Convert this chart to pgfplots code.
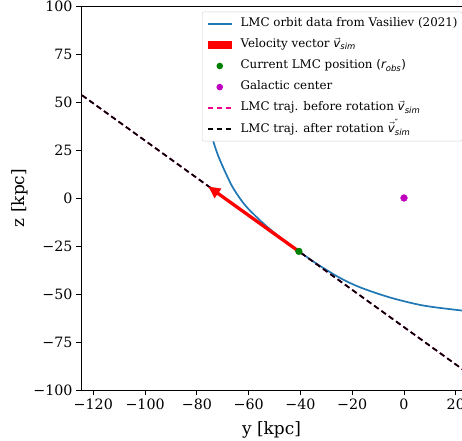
\documentclass[border=0pt]{standalone}
\usepackage{fontspec}
\setmainfont{DejaVu Serif}
\newfontfamily\dvs{DejaVu Sans}
\usepackage{pgfplots}
\pgfplotsset{compat=1.18}
\usetikzlibrary{arrows.meta}
\definecolor{tabblue}{RGB}{31,119,180}
\definecolor{mgreen}{RGB}{0,128,0}
\definecolor{mmag}{RGB}{191,0,191}
\newcommand{\subsz}{\fontsize{8.5}{9}\selectfont}
\newcommand{\vsim}{\ensuremath{\vec{\hbox{\dvs\itshape v}}_{\hbox{\dvs\itshape\subsz sim}}}}
\newcommand{\vsimpp}{\ensuremath{\vec{\hbox{\dvs\itshape v}}^{\hbox{\dvs\subsz ″}}_{\hbox{\dvs\itshape\subsz sim}}}}
\newcommand{\robs}{\ensuremath{\hbox{\dvs (}\hbox{\dvs\itshape r}_{\hbox{\dvs\itshape\subsz obs}}\hbox{\dvs )}}}
\begin{document}
\begin{tikzpicture}
\begin{axis}[name=ax, scale only axis, width=381bp, height=384bp,
  xmin=-124.75, xmax=22.4, ymin=-100, ymax=100,
  axis y line*=left,
  xtick={-120,-100,...,20}, xticklabels={−120,−100,−80,−60,−40,−20,0,20},
  ytick={-100,-75,...,100}, yticklabels={−100,−75,−50,−25,0,25,50,75,100},
  tick align=outside, xtick pos=bottom, ytick pos=left,
  major tick length=5bp,
  tick style={black, line width=0.9bp},
  axis line style={line width=0.9bp, black},
  ticklabel style={font=\fontsize{14.3}{16}\selectfont},
  xlabel={y [kpc]}, ylabel={z [kpc]},
  label style={font=\fontsize{17}{20}\selectfont},
  xlabel style={at={(rel axis cs:0.5,0)}, anchor=center, yshift=-40bp},
  ylabel style={at={(rel axis cs:0,0.5)}, anchor=center, yshift=61bp},
  legend style={at={(rel axis cs:0.3176,0.9852)}, anchor=north west,
    font=\fontsize{11.9}{14}\selectfont, draw=black!18, rounded corners=2bp,
    fill=white, inner xsep=4.7bp, inner ysep=5bp, row sep=7.3bp, column sep=8bp,
    nodes={inner sep=0pt, text height=9.7bp, text depth=4.1bp, sharp corners}},
  legend cell align=left,
]
\addplot[tabblue, line width=1.7bp, smooth,
  legend image code/.code={\draw[tabblue, line width=1.7bp, sharp corners] (0,0) -- (24bp,0);}]
  coordinates {(-77.45,82.3) (-77.26,66.6) (-76.68,56.2) (-75.71,44.7) (-74.56,35.3)
  (-73.40,28.4) (-71.08,19.7) (-66.7,6.9) (-63.36,-0.2) (-60.5,-5.1) (-56.02,-11.1)
  (-52.16,-15.8) (-48.30,-20.0) (-40.58,-27.8) (-32.86,-35.0) (-24.75,-41.6)
  (-17.03,-46.5) (-5.44,-51.8) (7.41,-56.0) (22.24,-58.6) (25.5,-59.1)};
\addlegendentry{LMC orbit data from Vasiliev (2021)}
\addlegendimage{legend image code/.code={\path (0,0) -- (24bp,0); \draw[red, line width=8bp, line cap=butt, sharp corners, overlay] (0,0) -- (24bp,0);}}
\addlegendentry{Velocity vector \vsim}
\addlegendimage{legend image code/.code={\draw[draw=none] (0,0) -- (24bp,0); \draw[mgreen, line width=6.6bp, line cap=round, overlay] (12bp,0) -- (12bp,0);}}
\addlegendentry{Current LMC position \robs}
\addlegendimage{legend image code/.code={\draw[draw=none] (0,0) -- (24bp,0); \draw[mmag, line width=6.6bp, line cap=round, overlay] (12bp,0) -- (12bp,0);}}
\addlegendentry{Galactic center}
\addplot[magenta, line width=1.7bp, dash pattern=on 5.5bp off 3.5bp,
  legend image code/.code={\draw[magenta, line width=1.7bp, dash pattern=on 5.5bp off 3.5bp, sharp corners] (0,0) -- (24bp,0);}]
  coordinates {(-130,59.0) (30,-96.4)};
\addlegendentry{LMC traj. before rotation \vsim}
\addplot[black, line width=1.7bp, dash pattern=on 5.5bp off 3.5bp,
  legend image code/.code={\draw[black, line width=1.7bp, dash pattern=on 5.5bp off 3.5bp, sharp corners] (0,0) -- (24bp,0);}]
  coordinates {(-130,59.0) (30,-96.4)};
\addlegendentry{LMC traj. after rotation \vsimpp}
\addplot[red, line width=3.3bp, -{Triangle[length=12bp,width=11bp]}, forget plot]
  coordinates {(-40.6,-27.8) (-75.6,6.0)};
\addplot[only marks, mark=*, mark size=3.4bp, mgreen, mark options={draw=mgreen, fill=mgreen}, forget plot]
  coordinates {(-40.6,-27.8)};
\addplot[only marks, mark=*, mark size=3.4bp, mmag, mark options={draw=mmag, fill=mmag}, forget plot]
  coordinates {(0,0)};
\end{axis}
\pgfresetboundingbox
\path ([xshift=-81bp,yshift=-51bp]ax.south west) rectangle ([yshift=6bp]ax.north east);
\end{tikzpicture}
\end{document}
